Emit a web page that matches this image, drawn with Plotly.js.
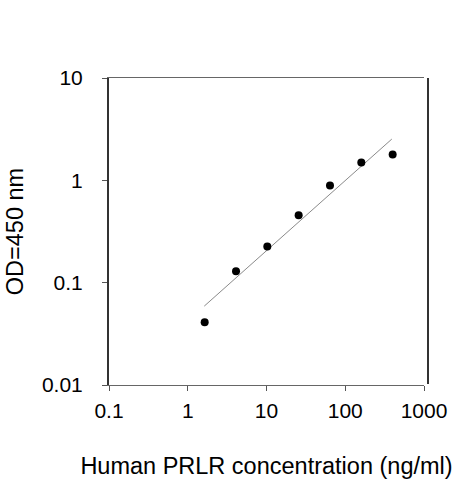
<!DOCTYPE html>
<html>
<head>
<meta charset="utf-8">
<script src="https://cdn.plot.ly/plotly-3.0.1.min.js"></script>
<style>html,body{margin:0;padding:0;background:#fff;}#chart{width:463px;height:480px;}</style>
</head>
<body>
<div id="chart"></div>
<script>
// Data
var concentration = [1.64, 4.1, 10.24, 25.6, 64, 160, 400];
var od450 = [0.041, 0.129, 0.226, 0.456, 0.888, 1.49, 1.79];
// Fitted (regression) line end points
var fitX = [1.62, 390];
var fitY = [0.059, 2.53];
var xTickVals = [0.1, 1, 10, 100, 1000];
var xTickText = ['0.1', '1', '10', '100', '1000'];
var yTickVals = [0.01, 0.1, 1, 10];
var yTickText = ['0.01', '0.1', '1', '10'];

var traces = [
  {x: fitX, y: fitY, mode: 'lines', type: 'scatter',
   line: {color: '#8a8a8a', width: 1}, hoverinfo: 'skip', showlegend: false},
  {x: concentration, y: od450, mode: 'markers', type: 'scatter',
   marker: {color: '#000', size: 8, symbol: 'circle'}, showlegend: false}
];

var fontFam = 'Liberation Sans, Arial, sans-serif';
var layout = {
  width: 463, height: 480,
  margin: {l: 109, r: 39, t: 78, b: 95},
  paper_bgcolor: '#fff', plot_bgcolor: '#fff',
  font: {family: fontFam, color: '#000', size: 21},
  xaxis: {
    type: 'log', range: [-1, 3],
    tickvals: xTickVals, ticktext: xTickText,
    ticks: 'outside', ticklen: 5, tickcolor: '#555', tickwidth: 1,
    showline: true, linecolor: '#666', linewidth: 1, mirror: true,
    showgrid: false, zeroline: false,
    tickfont: {size: 21, family: fontFam},
    ticklabelstandoff: 2,
    title: {text: 'Human PRLR concentration (ng/ml)', font: {size: 23.5, family: fontFam}, standoff: 36},
    automargin: false
  },
  yaxis: {
    type: 'log', range: [-2, 1],
    tickvals: yTickVals, ticktext: yTickText,
    ticks: 'outside', ticklen: 5, tickcolor: '#555', tickwidth: 1,
    showline: true, linecolor: '#333', linewidth: 2,
    showgrid: false, zeroline: false,
    tickfont: {size: 21, family: fontFam},
    ticklabelstandoff: 15,
    title: {text: 'OD=450 nm', font: {size: 23.5, family: fontFam}, standoff: 12},
    automargin: false
  },
  shapes: [
    {type: 'line', xref: 'paper', yref: 'paper', x0: 1.0127, x1: 1.0127, y0: 0.003, y1: 1,
     line: {color: '#333', width: 2}}
  ]
};

Plotly.newPlot('chart', traces, layout, {displayModeBar: false, staticPlot: true});
</script>
</body>
</html>
